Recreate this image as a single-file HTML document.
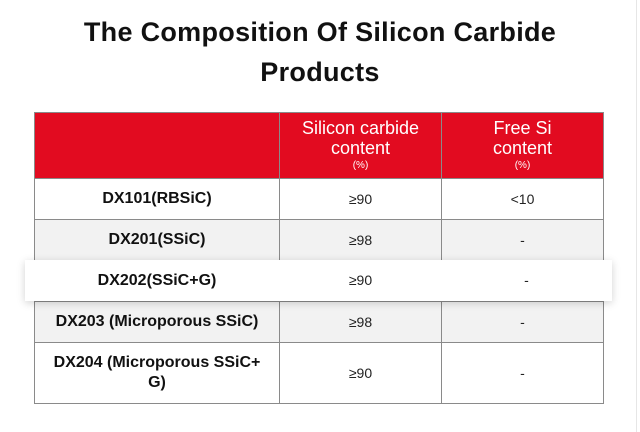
<!DOCTYPE html>
<html><head><meta charset="utf-8"><style>
*{margin:0;padding:0;box-sizing:border-box}
body{width:640px;height:432px;background:#fff;font-family:"Liberation Sans",sans-serif;position:relative;overflow:hidden}
.t{position:absolute;left:0;width:640px;text-align:center;font-weight:bold;font-size:27px;color:#111;letter-spacing:0.3px}
.c{position:absolute;display:flex;flex-direction:column;align-items:center;justify-content:center;text-align:center;border:1px solid #8a8a8a;font-size:14px;color:#222}
.h{background:#e20b20;color:#fff;font-size:18px;line-height:20px}
.h small{font-size:10px;line-height:16px}
.b{font-weight:bold;font-size:16px;color:#111;line-height:20px}
.g{background:#f2f2f2}
</style></head><body>
<div class="t" style="top:17px">The Composition Of Silicon Carbide</div>
<div class="t" style="top:57px">Products</div>

<div class="c h" style="left:34px;top:112px;width:246px;height:67px"></div>
<div class="c h" style="left:279px;top:112px;width:163px;height:67px">Silicon carbide<br>content<small>(%)</small></div>
<div class="c h" style="left:441px;top:112px;width:163px;height:67px">Free Si<br>content<small>(%)</small></div>

<div class="c b" style="left:34px;top:178px;width:246px;height:42px">DX101(RBSiC)</div>
<div class="c" style="left:279px;top:178px;width:163px;height:42px">≥90</div>
<div class="c" style="left:441px;top:178px;width:163px;height:42px">&lt;10</div>

<div class="c b g" style="left:34px;top:219px;width:246px;height:42px">DX201(SSiC)</div>
<div class="c g" style="left:279px;top:219px;width:163px;height:42px">≥98</div>
<div class="c g" style="left:441px;top:219px;width:163px;height:42px">-</div>

<div class="c b g" style="left:34px;top:301px;width:246px;height:42px">DX203 (Microporous SSiC)</div>
<div class="c g" style="left:279px;top:301px;width:163px;height:42px">≥98</div>
<div class="c g" style="left:441px;top:301px;width:163px;height:42px">-</div>

<div class="c b" style="left:34px;top:342px;width:246px;height:62px">DX204 (Microporous SSiC+<br>G)</div>
<div class="c" style="left:279px;top:342px;width:163px;height:62px">≥90</div>
<div class="c" style="left:441px;top:342px;width:163px;height:62px">-</div>

<div style="position:absolute;left:25px;top:260px;width:587px;height:41px;background:#fff;box-shadow:0 2px 8px rgba(0,0,0,0.18);font-size:14px;color:#222">
<div style="position:absolute;left:9px;width:246px;top:0;height:41px;line-height:41px;text-align:center;font-weight:bold;font-size:16px;color:#111">DX202(SSiC+G)</div>
<div style="position:absolute;left:254px;width:163px;top:0;height:41px;line-height:41px;text-align:center">≥90</div>
<div style="position:absolute;left:420px;width:163px;top:0;height:41px;line-height:41px;text-align:center">-</div>
</div>
<div style="position:absolute;left:636px;top:0;width:1px;height:432px;background:#e6e6e6"></div>
</body></html>
